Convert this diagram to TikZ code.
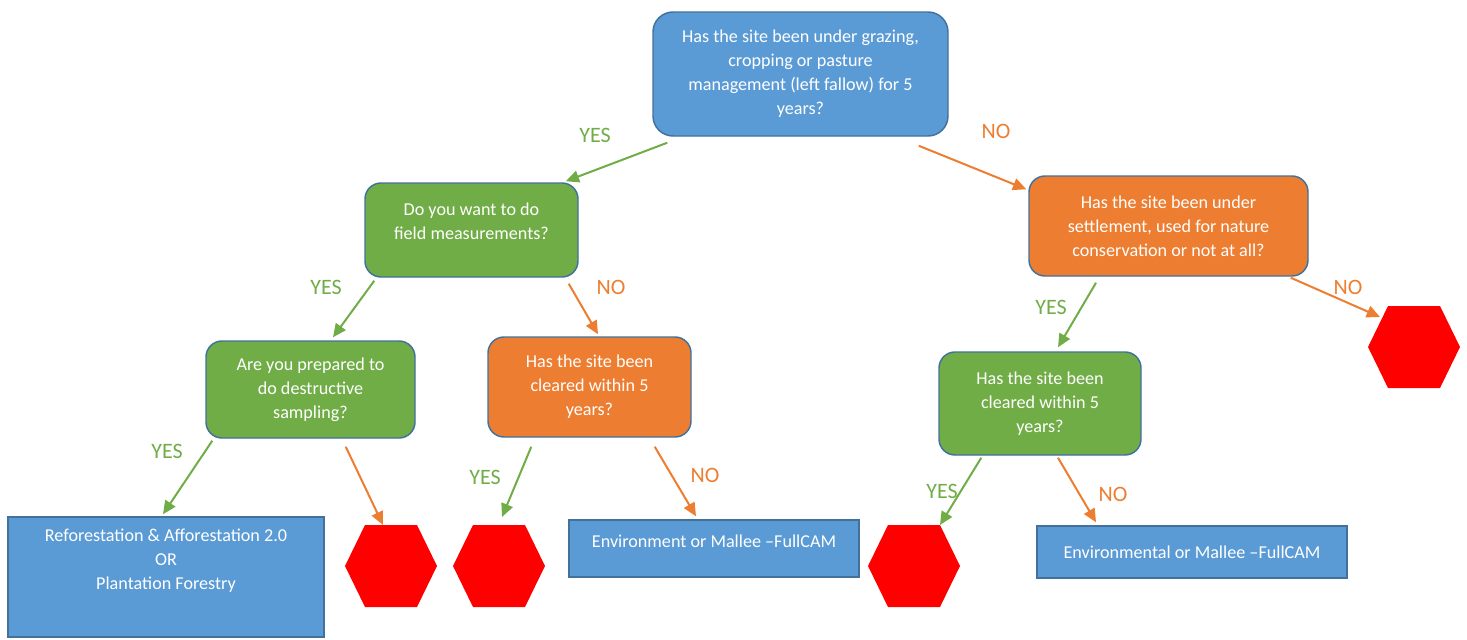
\documentclass[tikz,border=0pt]{standalone}
\usepackage{fontspec}
\setmainfont{Carlito}
\usetikzlibrary{calc,arrows.meta}
\definecolor{cblue}{HTML}{5B9BD5}
\definecolor{cborder}{HTML}{41719C}
\definecolor{cgreen}{HTML}{70AD47}
\definecolor{corange}{HTML}{ED7D31}
\definecolor{chex}{HTML}{FF0000}
\tikzset{
  box/.style={draw=cborder, line width=1.1pt, inner sep=0pt, text=white, align=center,
     font=\fontsize{13.6}{18}\selectfont},
  qbox/.style={box, rounded corners=12pt},
  bluebox/.style={box, fill=cblue},
  greenbox/.style={qbox, fill=cgreen},
  orangebox/.style={qbox, fill=corange},
  txt/.style={text=white, align=center, font=\fontsize{13.6}{18}\selectfont, inner sep=0pt},
  yesarrow/.style={draw=cgreen, line width=1.5pt, -{Triangle[length=10pt,width=9pt]}},
  noarrow/.style={draw=corange, line width=1.5pt, -{Triangle[length=10pt,width=9pt]}},
  yeslab/.style={text=cgreen, font=\fontsize{16.5}{18}\selectfont, inner sep=0pt},
  nolab/.style={text=corange, font=\fontsize{16.5}{18}\selectfont, inner sep=0pt},
}
\newcommand\hexat[1]{\fill[chex] ($(#1)+(-46,0)$) -- ($(#1)+(-26,-41)$) -- ($(#1)+(26,-41)$) -- ($(#1)+(46,0)$) -- ($(#1)+(26,41)$) -- ($(#1)+(-26,41)$) -- cycle;}
\begin{document}
\begin{tikzpicture}[x=0.75pt,y=-0.75pt]
\useasboundingbox (0,0) rectangle (1467,639);

% question boxes
\node[qbox, fill=cblue, rounded corners=15pt, minimum width=221.25pt, minimum height=93pt] (top) at (800.5,74)
  {Has the site been under grazing,\\cropping or pasture\\management (left fallow) for 5\\years?};
\node[greenbox, minimum width=159.75pt, minimum height=70.5pt] (g1) at (471.5,230) {};
\node[txt] (g1t) at (471.5,221) {Do you want to do\\field measurements?};
\node[orangebox, minimum width=209.25pt, minimum height=75pt] (or) at (1168.5,226)
  {Has the site been under\\settlement, used for nature\\conservation or not at all?};
\node[greenbox, minimum width=156.75pt, minimum height=72.75pt] (g2) at (310.5,389.5)
  {Are you prepared to\\do destructive\\sampling?};
\node[orangebox, minimum width=152.25pt, minimum height=75pt] (o2) at (589.5,387)
  {Has the site been\\cleared within 5\\years?};
\node[greenbox, minimum width=151.5pt, minimum height=77.25pt] (g3) at (1040,403.5)
  {Has the site been\\cleared within 5\\years?};

% result boxes
\node[bluebox, minimum width=237pt, minimum height=90pt] (b1) at (166,577) {};
\node[txt] (b1t) at (166,561) {Reforestation \& Afforestation 2.0\\OR\\Plantation Forestry};
\node[bluebox, minimum width=217.5pt, minimum height=42.75pt] (b2) at (714,548.5) {};
\node[txt] (b2t) at (714,541) {Environment or Mallee –FullCAM};
\node[bluebox, minimum width=232.5pt, minimum height=39pt] (b3) at (1192,552) {Environmental or Mallee –FullCAM};

% stop hexagons
\coordinate (h1) at (391,566);
\coordinate (h2) at (499,566);
\coordinate (h3) at (914,566);
\coordinate (h4) at (1414,347);
\hexat{h1}\hexat{h2}\hexat{h3}\hexat{h4}

% connectors
\draw[yesarrow] ($(top.south west)+(15,6)$) -- ($(g1.north east)+(-13,-1)$);
\draw[noarrow] ($(top.south east)+(-30,9)$) -- ($(or.north west)+(-2,14)$);
\draw[yesarrow] ($(g1.south west)+(10,3)$) -- ($(g2.north)+(22.5,-3)$);
\draw[noarrow] ($(g1.south east)+(-10,6)$) -- ($(o2.north)+(8.5,-2)$);
\draw[yesarrow] ($(or.south)+(-72.5,6)$) -- ($(g3.north)+(18,-4)$);
\draw[noarrow] ($(or.south east)+(-18,1)$) -- ($(h4)+(-34,-30)$);
\draw[yesarrow] ($(g2.south west)+(7,2)$) -- ($(b1.north)+(-3,-2)$);
\draw[noarrow] ($(g2.south east)+(-70,8)$) -- ($(h1)+(-8,-41)$);
\draw[yesarrow] ($(o2.south west)+(44,9)$) -- ($(h2)+(3,-49)$);
\draw[noarrow] ($(o2.south east)+(-37,9)$) -- ($(b2.north)+(-18,-3)$);
\draw[yesarrow] ($(g3.south west)+(43,2)$) -- ($(h3)+(26,-41)$);
\draw[noarrow] ($(g3.south)+(18,2)$) -- ($(b3.north)+(-96,-3)$);

% labels
\node[yeslab] (l1) at (595,135) {YES};
\node[nolab] (l2) at (996,131) {NO};
\node[yeslab] (l3) at (326,287) {YES};
\node[nolab] (l4) at (611,287) {NO};
\node[yeslab] (l5) at (1051,307) {YES};
\node[nolab] (l6) at (1348,287) {NO};
\node[yeslab] (l7) at (167,451) {YES};
\node[yeslab] (l8) at (485,477) {YES};
\node[nolab] (l9) at (705,475) {NO};
\node[yeslab] (l10) at (942,491) {YES};
\node[nolab] (l11) at (1113,494) {NO};
\end{tikzpicture}
\end{document}
